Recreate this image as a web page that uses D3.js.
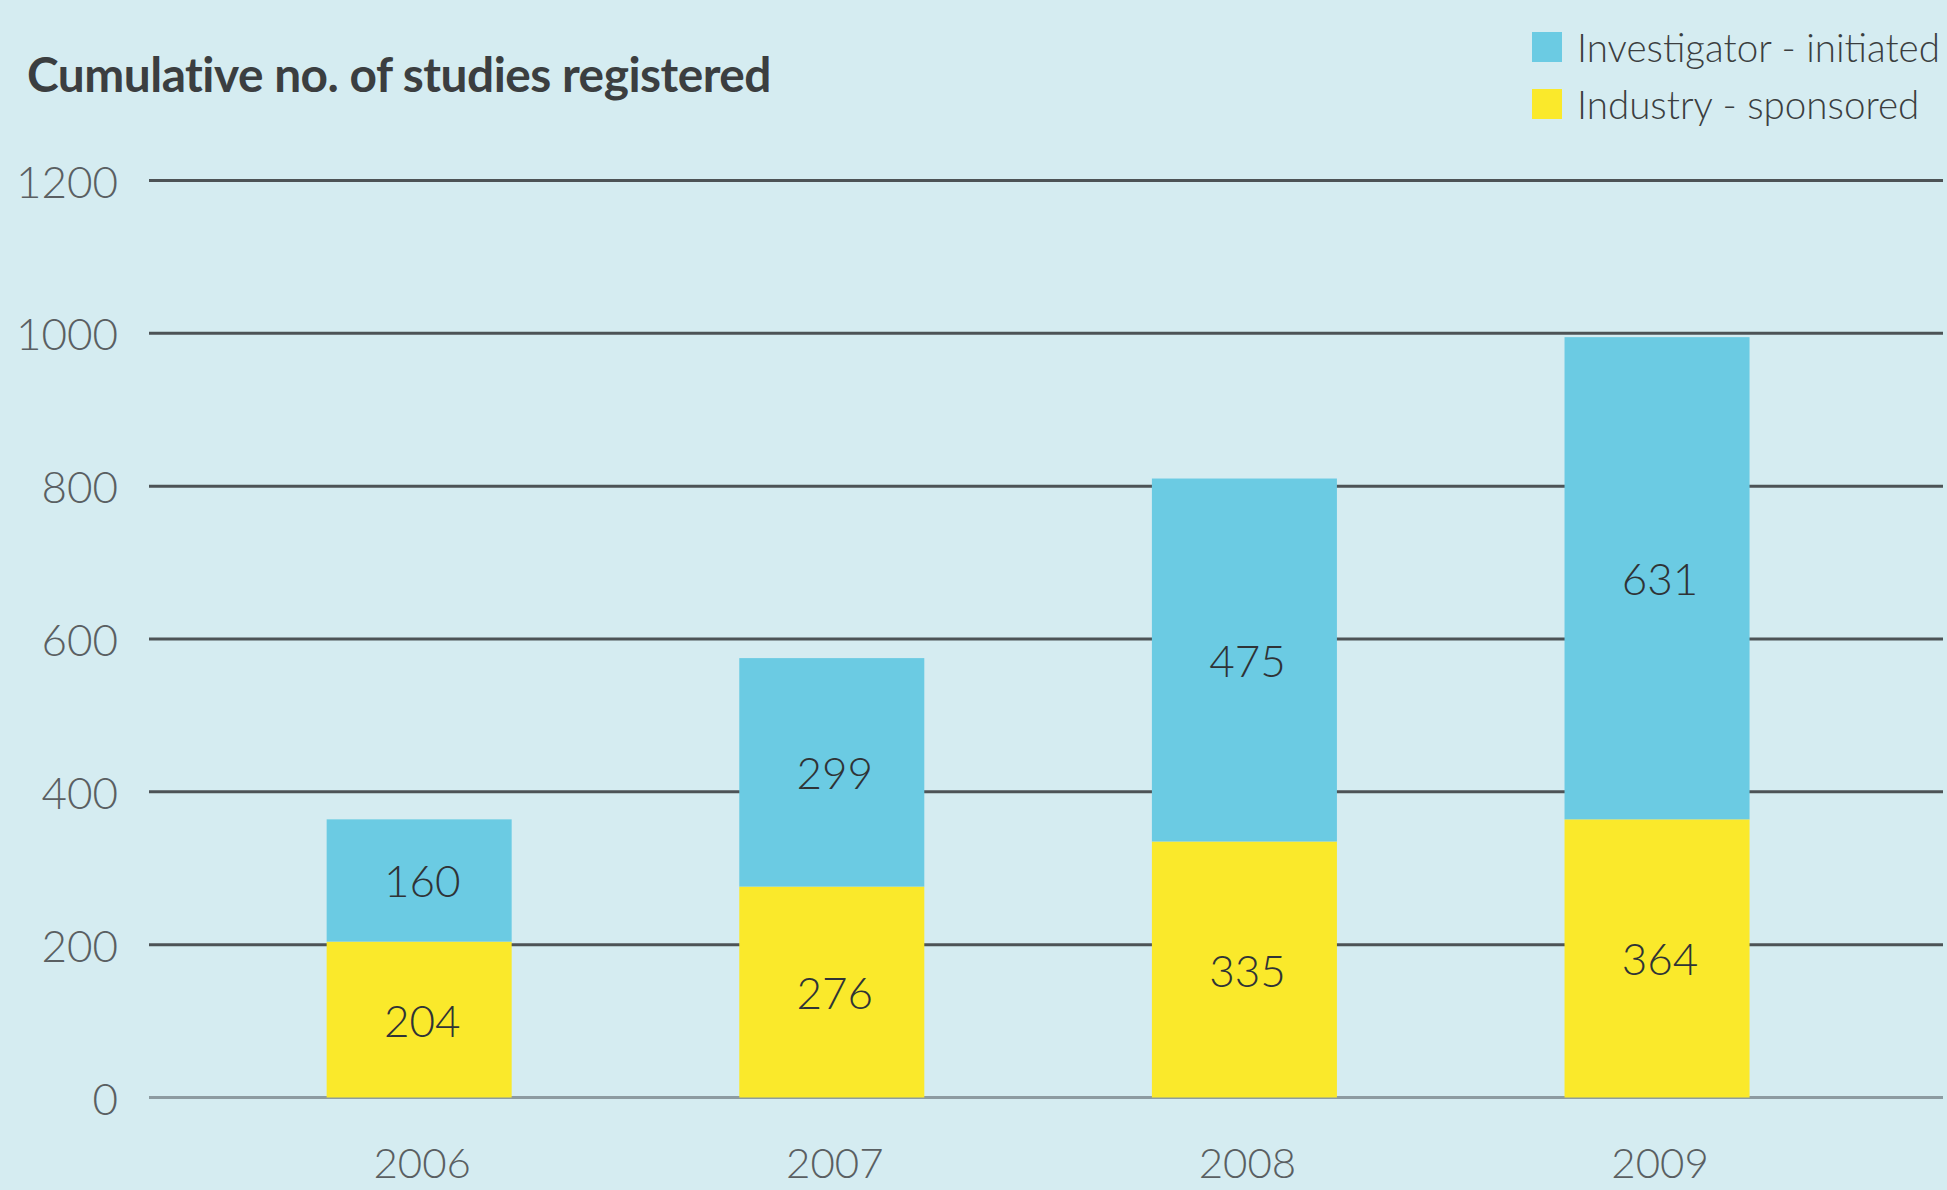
<!DOCTYPE html>
<html>
<head>
<meta charset="utf-8">
<script src="https://cdn.jsdelivr.net/npm/d3@7"></script>
<style>
  html, body { margin: 0; padding: 0; background: #d5ecf1; }
  svg { display: block; }
</style>
</head>
<body>
<svg id="chart" width="1947" height="1190"></svg>
<script>
const years = ["2006", "2007", "2008", "2009"];
const industry = [204, 276, 335, 364];
const investigator = [160, 299, 475, 631];
const yTicks = [0, 200, 400, 600, 800, 1000, 1200];
const seriesNames = ["Investigator - initiated", "Industry - sponsored"];
const seriesColors = ["#6bcbe3", "#fae92b"];
const titleText = "Cumulative no. of studies registered";

const W = 1947, H = 1190;
const svg = d3.select("#chart");
svg.append("rect").attr("width", W).attr("height", H).attr("fill", "#d5ecf1");

const y = d3.scaleLinear().domain([0, 1200]).range([1097.5, 180.5]);
const x = d3.scaleBand().domain(years).range([161.6, 1914.6]).paddingInner(0.5516).paddingOuter(0.4);

const numFont = "Lato, 'Open Sans', sans-serif";

// gridlines
const grid = svg.append("g");
grid.selectAll("line").data(yTicks).join("line")
  .attr("x1", 149).attr("x2", 1943)
  .attr("y1", d => y(d)).attr("y2", d => y(d))
  .attr("stroke", d => d === 0 ? "#8d9ba1" : "#4d5356")
  .attr("stroke-width", 3);

// y tick labels
svg.append("g").selectAll("text").data(yTicks).join("text")
  .attr("x", 118).attr("y", d => y(d))
  .attr("text-anchor", "end").attr("dominant-baseline", "central")
  .attr("font-family", numFont).attr("font-weight", 300)
  .attr("font-size", 44).attr("fill", "#5a5f62")
  .text(d => d);

// stacked data
const rows = years.map((yr, i) => ({ year: yr, industry: industry[i], investigator: investigator[i] }));
const stack = d3.stack().keys(["industry", "investigator"])(rows);
const colorOf = { industry: seriesColors[1], investigator: seriesColors[0] };

const layers = svg.append("g").selectAll("g").data(stack).join("g")
  .attr("fill", d => colorOf[d.key]);
layers.selectAll("rect").data(d => d).join("rect")
  .attr("x", d => x(d.data.year))
  .attr("width", x.bandwidth())
  .attr("y", d => y(d[1]))
  .attr("height", d => y(d[0]) - y(d[1]));

// value labels
const labels = svg.append("g");
stack.forEach(layer => {
  labels.selectAll(null).data(layer).join("text")
    .attr("x", d => x(d.data.year) + x.bandwidth() / 2 + 3)
    .attr("y", d => y((d[0] + d[1]) / 2))
    .attr("text-anchor", "middle").attr("dominant-baseline", "central")
    .attr("font-family", numFont).attr("font-weight", 300)
    .attr("font-size", 44).attr("fill", "#2f3336")
    .text(d => d.data[layer.key]);
});

// x labels
svg.append("g").selectAll("text").data(years).join("text")
  .attr("x", d => x(d) + x.bandwidth() / 2 + 3)
  .attr("y", 1162)
  .attr("text-anchor", "middle").attr("dominant-baseline", "central")
  .attr("font-family", numFont).attr("font-weight", 300)
  .attr("font-size", 42).attr("fill", "#5a5f62")
  .text(d => d);

// title
const title = svg.append("text")
  .attr("x", 27).attr("y", 92)
  .attr("font-family", "Lato, 'Open Sans', sans-serif").attr("font-weight", 700)
  .attr("font-size", 50).attr("fill", "#3b3e40")
  .attr("letter-spacing", -0.5)
  .text(titleText);
const tw = title.node().getComputedTextLength();
if (tw > 0) title.attr("font-size", 50 * 745 / tw);

// legend
const legend = svg.append("g").selectAll("g").data(seriesNames).join("g")
  .attr("transform", (d, i) => `translate(1532, ${32 + i * 57})`);
legend.append("rect").attr("width", 30).attr("height", 30)
  .attr("fill", (d, i) => seriesColors[i]);
const legText = legend.append("text")
  .attr("x", 45).attr("y", 15)
  .attr("dominant-baseline", "central")
  .attr("font-family", numFont).attr("font-weight", 300)
  .attr("font-size", 40).attr("fill", "#3b3e40")
  .text(d => d);
const lw = legText.nodes()[0].getComputedTextLength();
if (lw > 0) legText.attr("font-size", 40 * 363 / lw);
</script>
</body>
</html>
